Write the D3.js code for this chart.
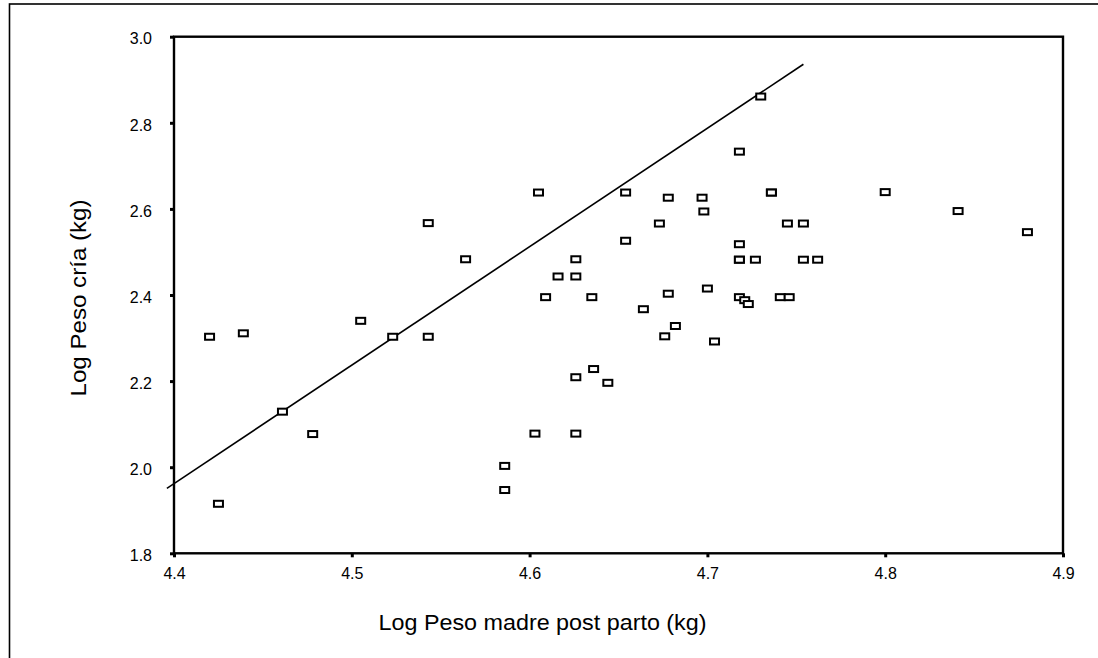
<!DOCTYPE html>
<html>
<head>
<meta charset="utf-8">
<script src="https://cdn.jsdelivr.net/npm/d3@7"></script>
<style>
  html, body { margin: 0; padding: 0; background: #fff; }
  svg { display: block; }
</style>
</head>
<body>
<svg id="chart" width="1098" height="658"></svg>
<script>
// ---- data ----
const xTicks = [4.4, 4.5, 4.6, 4.7, 4.8, 4.9];
const yTicks = [1.8, 2.0, 2.2, 2.4, 2.6, 2.8, 3.0];

const logPesoMadre = [
  4.420, 4.439, 4.425, 4.461, 4.478, 4.505, 4.523, 4.543, 4.543, 4.564,
  4.605, 4.626, 4.616, 4.626, 4.609, 4.635, 4.730, 4.718, 4.654, 4.736,
  4.736, 4.678, 4.697, 4.698, 4.673, 4.745, 4.754, 4.654, 4.718, 4.718,
  4.718, 4.727, 4.754, 4.762, 4.678, 4.700, 4.718, 4.721, 4.723, 4.741,
  4.746, 4.664, 4.682, 4.676, 4.704, 4.636, 4.626, 4.644, 4.626, 4.603,
  4.586, 4.586, 4.800, 4.841, 4.880
];
const logPesoCria = [
  2.303, 2.311, 1.915, 2.129, 2.077, 2.340, 2.303, 2.303, 2.567, 2.483,
  2.638, 2.483, 2.443, 2.443, 2.395, 2.395, 2.861, 2.733, 2.638, 2.638,
  2.638, 2.626, 2.626, 2.594, 2.566, 2.566, 2.566, 2.526, 2.518, 2.482,
  2.482, 2.482, 2.482, 2.482, 2.403, 2.415, 2.395, 2.388, 2.379, 2.395,
  2.395, 2.367, 2.328, 2.304, 2.292, 2.228, 2.209, 2.196, 2.078, 2.078,
  2.003, 1.947, 2.639, 2.595, 2.546
];

// fitted line end points
const fitX = [4.396, 4.754];
const fitY = [1.951, 2.936];

const xTitle = "Log Peso madre post parto (kg)";
const yTitle = "Log Peso cría (kg)";

// ---- drawing ----
const svg = d3.select("#chart");
const FONT = "'Liberation Sans', Arial, Helvetica, sans-serif";

const pLeft = 174, pRight = 1063, pTop = 36.7, pBottom = 553.3;

const x = d3.scaleLinear().domain([4.4, 4.9]).range([pLeft, pRight]);
const y = d3.scaleLinear().domain([1.8, 3.0]).range([pBottom, pTop]);

// outer frame
svg.append("rect")
  .attr("x", 9.5).attr("y", 4).attr("width", 1200).attr("height", 700)
  .attr("fill", "none").attr("stroke", "#000").attr("stroke-width", 1.6);

// plot frame
svg.append("rect")
  .attr("x", pLeft).attr("y", pTop)
  .attr("width", pRight - pLeft).attr("height", pBottom - pTop)
  .attr("fill", "none").attr("stroke", "#000").attr("stroke-width", 2.4);

// axes
const xAxis = svg.append("g")
  .attr("transform", `translate(0,${pBottom})`)
  .call(d3.axisBottom(x).tickValues(xTicks).tickFormat(d3.format(".1f"))
        .tickSize(4).tickPadding(10.5));
const yAxis = svg.append("g")
  .attr("transform", `translate(${pLeft},0)`)
  .call(d3.axisLeft(y).tickValues(yTicks).tickFormat(d3.format(".1f"))
        .tickSize(4).tickPadding(18));

[xAxis, yAxis].forEach(g => {
  g.select(".domain").remove();
  g.selectAll(".tick line").attr("stroke", "#000").attr("stroke-width", 3);
  g.selectAll(".tick text")
    .attr("fill", "#000")
    .style("font-family", FONT)
    .style("font-size", "16px");
});
yAxis.selectAll(".tick text").attr("dy", "0.45em");

// fitted line
svg.append("line")
  .attr("x1", x(fitX[0])).attr("y1", y(fitY[0]))
  .attr("x2", x(fitX[1])).attr("y2", y(fitY[1]))
  .attr("stroke", "#000").attr("stroke-width", 1.6);

// points (hollow squares)
const pts = logPesoMadre.map((v, i) => ({ x: v, y: logPesoCria[i] }));
svg.append("g").selectAll("rect").data(pts).join("rect")
  .attr("x", d => x(d.x) - 4.5)
  .attr("y", d => y(d.y) - 3)
  .attr("width", 9).attr("height", 6)
  .attr("fill", "#fff").attr("stroke", "#000").attr("stroke-width", 2);

// axis titles
svg.append("text")
  .attr("x", 542.5).attr("y", 630)
  .attr("text-anchor", "middle")
  .attr("textLength", 328).attr("lengthAdjust", "spacingAndGlyphs")
  .style("font-family", FONT).style("font-size", "22px")
  .text(xTitle);

svg.append("text")
  .attr("transform", "translate(86,298) rotate(-90)")
  .attr("text-anchor", "middle")
  .attr("textLength", 197).attr("lengthAdjust", "spacingAndGlyphs")
  .style("font-family", FONT).style("font-size", "22px")
  .text(yTitle);
</script>
</body>
</html>
